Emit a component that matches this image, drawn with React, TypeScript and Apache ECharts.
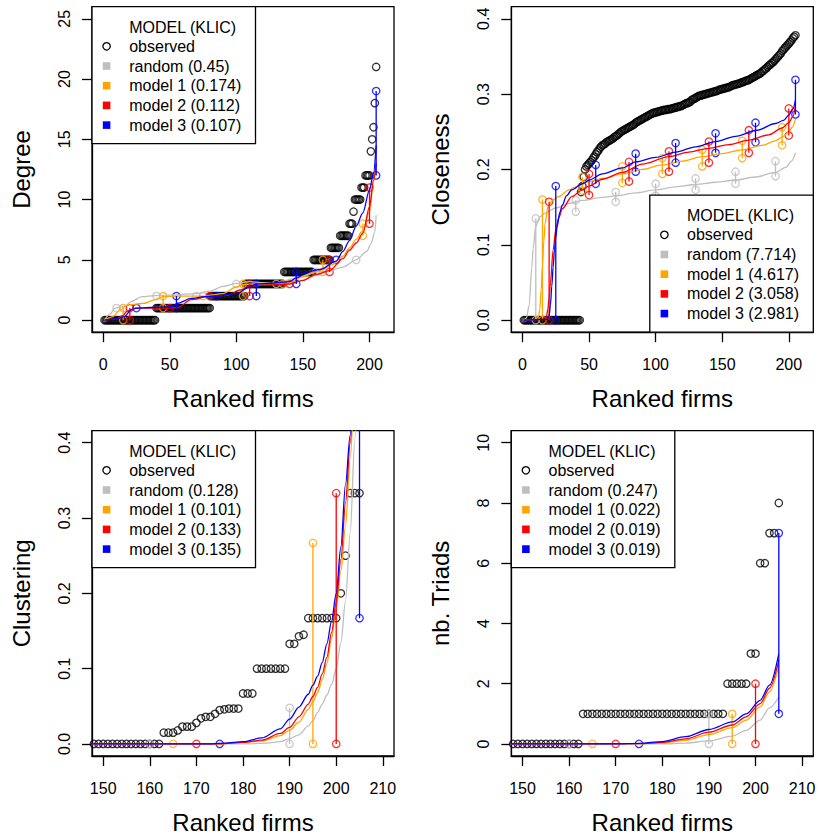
import React, { useEffect, useRef } from "react";
import * as echarts from "echarts";

type Pt = [number, number];
type Seg = [number, number, number]; // firm rank, low, high

// ---------------- tick labels ----------------
const fullRankTicks = [0, 50, 100, 150, 200];
const tailRankTicks = [150, 160, 170, 180, 190, 200, 210];
const degreeTicks = [0, 5, 10, 15, 20, 25];
const closenessTicks = [0, 0.1, 0.2, 0.3, 0.4];
const clusteringTicks = [0, 0.1, 0.2, 0.3, 0.4];
const triadTicks = [0, 2, 4, 6, 8, 10];

// ---------------- legend labels ----------------
const legendTitle = "MODEL (KLIC)";
const modelNames = ["random", "model 1", "model 2", "model 3"];
const degreeKlic = ["0.45", "0.174", "0.112", "0.107"];
const closenessKlic = ["7.714", "4.617", "3.058", "2.981"];
const clusteringKlic = ["0.128", "0.101", "0.133", "0.135"];
const triadKlic = ["0.247", "0.022", "0.019", "0.019"];

// ---------------- observed values (ranked firms 1..205) ----------------
const degreeObsLevels = [0, 1, 2, 3, 4, 5, 6, 7, 8, 9, 10, 11, 12, 14, 15, 16, 18, 21];
const degreeObsCounts = [39, 41, 26, 29, 22, 13, 7, 7, 3, 1, 5, 3, 4, 1, 1, 1, 1, 1];

const closenessObsZeroCount = 43;
const closenessObsTail = [
  0.17, 0.178, 0.19, 0.2, 0.204, 0.206, 0.208,
  0.21, 0.212, 0.215, 0.217, 0.22, 0.223, 0.225, 0.228, 0.23, 0.232,
  0.233, 0.234, 0.236, 0.237, 0.238, 0.239, 0.24, 0.241, 0.243, 0.244,
  0.245, 0.247, 0.248, 0.25, 0.251, 0.252, 0.253, 0.254, 0.255, 0.256,
  0.257, 0.258, 0.259, 0.26, 0.262, 0.263, 0.264, 0.265, 0.266, 0.267,
  0.268, 0.269, 0.27, 0.271, 0.272, 0.273, 0.274, 0.275, 0.275, 0.276,
  0.276, 0.277, 0.277, 0.278, 0.278, 0.279, 0.279, 0.279, 0.28, 0.28,
  0.28, 0.281, 0.281, 0.282, 0.282, 0.283, 0.283, 0.284, 0.284, 0.285,
  0.286, 0.287, 0.288, 0.288, 0.289, 0.29, 0.292, 0.293, 0.294, 0.295,
  0.296, 0.297, 0.298, 0.298, 0.299, 0.299, 0.3, 0.3, 0.301, 0.301,
  0.302, 0.302, 0.303, 0.303, 0.304, 0.304, 0.305, 0.306, 0.306, 0.307,
  0.307, 0.308, 0.308, 0.309, 0.309, 0.31, 0.311, 0.312, 0.312, 0.313,
  0.313, 0.314, 0.314, 0.315, 0.316, 0.316, 0.317, 0.318, 0.318, 0.319,
  0.32, 0.321, 0.322, 0.323, 0.324, 0.325, 0.326, 0.327, 0.328, 0.33,
  0.331, 0.333, 0.334, 0.336, 0.338, 0.339, 0.341, 0.342, 0.344, 0.346,
  0.348, 0.35, 0.352, 0.354, 0.357, 0.359, 0.361, 0.363, 0.365, 0.367,
  0.369, 0.371, 0.374, 0.376, 0.378,
];

const clusteringObsZeroCount = 162;
const clusteringObsTail = [
  0.015, 0.015, 0.015, 0.018, 0.023, 0.023, 0.023, 0.028, 0.034, 0.036,
  0.036, 0.04, 0.045, 0.046, 0.047, 0.047, 0.047, 0.067, 0.067, 0.067,
  0.1, 0.1, 0.1, 0.1, 0.1, 0.1, 0.1, 0.133, 0.133, 0.143,
  0.145, 0.167, 0.167, 0.167, 0.167, 0.167, 0.167, 0.167, 0.2, 0.25,
  0.333, 0.333, 0.333,
];

const triadObsLevels = [0, 1, 2, 3, 6, 7, 8];
const triadObsCounts = [162, 31, 5, 2, 2, 2, 1];

// ---------------- model curves ----------------
const degreeRandomCurve: Pt[] = [[1, 0], [5, 0.5], [9, 1.0], [16, 1.13], [21, 1.54], [29, 1.95], [39, 2.04], [55, 2.1], [70, 2.2], [80, 2.4], [90, 2.8], [100, 3.05], [110, 3.2], [120, 3.1], [130, 3.05], [145, 3.5], [160, 4.0], [170, 4.1], [180, 4.4], [190, 5.0], [198, 5.7], [201, 6.3], [204, 7.3], [205, 8.7]];
const degreeModel1Curve: Pt[] = [[1, 0], [7.5, 0.3], [12.6, 0.85], [18.8, 1.27], [31, 1.4], [39, 1.7], [45, 1.95], [55, 2.0], [75, 2.0], [90, 2.2], [100, 2.75], [105, 2.95], [112, 3.0], [130, 3.0], [140, 3.1], [150, 3.6], [160, 4.0], [165, 4.2], [172, 4.6], [180, 5.3], [185, 6.0], [190, 6.7], [195, 7.4], [200, 9.0], [203, 11.5], [205, 13]];
const degreeModel2Curve: Pt[] = [[1, 0], [10, 0.1], [15, 0.4], [18, 0.75], [24, 1.0], [40, 1.0], [56, 1.04], [66, 1.7], [79, 1.97], [93, 2.05], [103, 2.5], [110, 2.8], [120, 2.9], [140, 3.0], [150, 3.3], [160, 3.8], [170, 4.1], [180, 5.1], [185, 5.8], [190, 6.4], [195, 7.2], [200, 9.4], [203, 11.6], [205, 13]];
const degreeModel3Curve: Pt[] = [[1, 0], [10, 0.1], [16, 0.3], [21, 0.85], [25, 1.0], [35, 1.05], [51, 1.1], [56, 1.4], [66, 1.8], [76, 1.95], [85, 2.0], [100, 2.2], [110, 2.75], [115, 3.0], [126, 3.05], [140, 3.2], [145, 3.5], [153, 4.0], [163, 4.2], [175, 4.9], [180, 5.7], [185, 6.6], [190, 7.8], [195, 8.9], [200, 10.8], [203, 12.2], [205, 14.5]];

const closenessRandomCurve: Pt[] = [[1, 0], [3, 0.003], [5, 0.02], [7, 0.07], [8, 0.095], [10, 0.125], [13, 0.137], [17, 0.142], [25, 0.149], [35, 0.155], [45, 0.159], [60, 0.163], [70, 0.165], [85, 0.169], [100, 0.173], [115, 0.177], [130, 0.18], [145, 0.183], [160, 0.186], [175, 0.19], [190, 0.196], [198, 0.203], [202, 0.211], [205, 0.222]];
const closenessModel1Curve: Pt[] = [[1, 0], [10, 0.001], [12, 0.005], [13, 0.014], [14, 0.04], [15, 0.071], [16, 0.105], [17, 0.128], [19, 0.15], [22, 0.158], [27, 0.164], [35, 0.173], [40, 0.177], [50, 0.184], [60, 0.188], [75, 0.194], [90, 0.2], [105, 0.206], [120, 0.211], [135, 0.217], [150, 0.221], [165, 0.226], [180, 0.232], [190, 0.238], [196, 0.244], [200, 0.25], [203, 0.257], [205, 0.267]];
const closenessModel2Curve: Pt[] = [[1, 0], [15, 0.001], [18, 0.005], [19, 0.014], [20, 0.03], [21, 0.05], [23, 0.093], [25, 0.12], [27, 0.135], [30, 0.148], [37, 0.164], [45, 0.173], [50, 0.178], [60, 0.187], [75, 0.196], [90, 0.207], [110, 0.217], [125, 0.223], [140, 0.228], [155, 0.233], [170, 0.239], [185, 0.246], [195, 0.255], [200, 0.262], [203, 0.27], [205, 0.285]];
const closenessModel3Curve: Pt[] = [[1, 0], [18, 0.001], [20, 0.006], [21, 0.02], [22, 0.045], [23, 0.07], [24, 0.093], [25, 0.11], [26, 0.124], [28, 0.143], [30, 0.153], [33, 0.165], [37, 0.173], [45, 0.181], [50, 0.186], [60, 0.194], [75, 0.202], [85, 0.21], [100, 0.216], [115, 0.223], [130, 0.23], [145, 0.237], [160, 0.244], [176, 0.252], [190, 0.261], [196, 0.265], [200, 0.272], [203, 0.28], [205, 0.292]];

const clusteringRandomCurve: Pt[] = [[140, 0], [180, 0.0], [185, 0.001], [188, 0.003], [190, 0.007], [192, 0.012], [194, 0.024], [195, 0.031], [196, 0.042], [197, 0.053], [198, 0.065], [199, 0.079], [200, 0.1], [201, 0.135], [202, 0.19], [203, 0.28], [204, 0.405], [205, 0.55]];
const clusteringModel1Curve: Pt[] = [[140, 0], [175, 0.0], [180, 0.002], [184, 0.004], [188, 0.011], [190, 0.018], [192, 0.029], [194, 0.046], [195, 0.056], [196, 0.068], [197, 0.085], [198, 0.107], [199, 0.14], [200, 0.18], [201, 0.23], [202, 0.29], [203, 0.38], [204, 0.48], [205, 0.58]];
const clusteringModel2Curve: Pt[] = [[140, 0], [175, 0.0], [180, 0.002], [184, 0.005], [188, 0.014], [190, 0.022], [192, 0.036], [194, 0.053], [195, 0.063], [196, 0.075], [197, 0.093], [198, 0.115], [199, 0.148], [200, 0.188], [201, 0.245], [202, 0.32], [203, 0.4], [204, 0.49], [205, 0.58]];
const clusteringModel3Curve: Pt[] = [[140, 0], [172, 0.0], [176, 0.001], [180, 0.003], [184, 0.008], [188, 0.02], [190, 0.033], [192, 0.049], [194, 0.066], [195, 0.078], [196, 0.09], [197, 0.108], [198, 0.133], [199, 0.163], [200, 0.2], [201, 0.262], [202, 0.345], [203, 0.41], [204, 0.5], [205, 0.6]];

const triadRandomCurve: Pt[] = [[140, 0], [180, 0.0], [185, 0.03], [190, 0.1], [195, 0.26], [198, 0.45], [201, 0.79], [203, 1.2], [205, 1.56]];
const triadModel1Curve: Pt[] = [[140, 0], [175, 0.01], [180, 0.03], [185, 0.12], [190, 0.31], [195, 0.54], [198, 0.79], [201, 1.23], [203, 1.73], [205, 2.61]];
const triadModel2Curve: Pt[] = [[140, 0], [175, 0.01], [180, 0.05], [185, 0.17], [190, 0.39], [195, 0.63], [198, 0.9], [201, 1.34], [203, 1.85], [205, 2.78]];
const triadModel3Curve: Pt[] = [[140, 0], [170, 0.0], [175, 0.02], [180, 0.08], [185, 0.24], [190, 0.48], [195, 0.73], [198, 1.0], [201, 1.45], [203, 1.95], [205, 3.0]];

// ---------------- simulated ranges (rank, low, high) ----------------
const degreeRandomSegs: Seg[] = [[10, 1, 1], [40, 2, 2], [70, 2, 2], [100, 3, 3], [130, 3, 3], [160, 4, 4], [190, 5, 5]];
const degreeModel1Segs: Seg[] = [[15, 0, 1], [45, 1, 2], [75, 2, 2], [105, 2, 3], [135, 3, 3], [165, 4, 5], [195, 7, 8]];
const degreeModel2Segs: Seg[] = [[20, 0, 1], [50, 1, 1], [80, 2, 2], [110, 2, 3], [140, 3, 3], [170, 4, 5], [200, 8, 11]];
const degreeModel3Segs: Seg[] = [[25, 1, 1], [55, 1, 2], [85, 2, 2], [115, 2, 3], [145, 3, 4], [175, 5, 5], [205, 12, 19]];

const closenessRandomSegs: Seg[] = [[10, 0, 0.135], [40, 0.144, 0.159], [70, 0.157, 0.17], [100, 0.165, 0.181], [130, 0.173, 0.188], [160, 0.181, 0.197], [190, 0.191, 0.211]];
const closenessModel1Segs: Seg[] = [[15, 0, 0.16], [45, 0.172, 0.19], [75, 0.182, 0.204], [105, 0.194, 0.215], [135, 0.204, 0.226], [165, 0.215, 0.238], [195, 0.232, 0.256]];
const closenessModel2Segs: Seg[] = [[20, 0, 0.157], [50, 0.166, 0.194], [80, 0.184, 0.21], [110, 0.197, 0.224], [140, 0.209, 0.237], [170, 0.222, 0.252], [200, 0.245, 0.281]];
const closenessModel3Segs: Seg[] = [[25, 0, 0.178], [55, 0.181, 0.206], [85, 0.197, 0.221], [115, 0.209, 0.235], [145, 0.222, 0.248], [175, 0.236, 0.262], [205, 0.273, 0.319]];

const clusteringRandomSegs: Seg[] = [[160, 0, 0], [190, 0, 0.048]];
const clusteringModel1Segs: Seg[] = [[165, 0, 0], [195, 0, 0.267]];
const clusteringModel2Segs: Seg[] = [[170, 0, 0], [200, 0, 0.333]];
const clusteringModel3Segs: Seg[] = [[175, 0, 0], [205, 0.167, 0.5]];

const triadRandomSegs: Seg[] = [[160, 0, 0], [190, 0, 1]];
const triadModel1Segs: Seg[] = [[165, 0, 0], [195, 0, 1]];
const triadModel2Segs: Seg[] = [[170, 0, 0], [200, 0, 2]];
const triadModel3Segs: Seg[] = [[175, 0, 0], [205, 1, 7]];

// ---------------- styling ----------------
const FONT = '"Liberation Sans", Arial, Helvetica, sans-serif';
const MODEL_COLORS = ["#BEBEBE", "#FFA500", "#FF0000", "#0000FF"];
const LW = 1.3;
const SYM = 7.4;

function expandRuns(levels: number[], counts: number[]): Pt[] {
  const out: Pt[] = [];
  let rank = 1;
  levels.forEach((v, k) => {
    for (let c = 0; c < counts[k]; c++) out.push([rank++, v]);
  });
  return out;
}
function zerosThenTail(zeroCount: number, tail: number[]): Pt[] {
  const out: Pt[] = [];
  for (let i = 0; i < zeroCount; i++) out.push([i + 1, 0]);
  tail.forEach((v, i) => out.push([zeroCount + i + 1, v]));
  return out;
}

interface Panel {
  left: number; top: number; width: number; height: number;
  xlim: [number, number]; ylim: [number, number];
  xTicks: number[]; yTicks: number[]; yDec: number; yName: string;
  observed: Pt[]; curves: Pt[][]; segs: Seg[][]; klic: string[];
  legendCorner: "tl" | "br";
}

const panels: Panel[] = [
  {
    left: 92, top: 6.7, width: 302, height: 325.5, xlim: [0, 210], ylim: [0, 25],
    xTicks: fullRankTicks, yTicks: degreeTicks, yDec: 0, yName: "Degree",
    observed: expandRuns(degreeObsLevels, degreeObsCounts),
    curves: [degreeRandomCurve, degreeModel1Curve, degreeModel2Curve, degreeModel3Curve],
    segs: [degreeRandomSegs, degreeModel1Segs, degreeModel2Segs, degreeModel3Segs],
    klic: degreeKlic, legendCorner: "tl",
  },
  {
    left: 511.3, top: 6.7, width: 302, height: 325.5, xlim: [0, 210], ylim: [0, 0.4],
    xTicks: fullRankTicks, yTicks: closenessTicks, yDec: 1, yName: "Closeness",
    observed: zerosThenTail(closenessObsZeroCount, closenessObsTail),
    curves: [closenessRandomCurve, closenessModel1Curve, closenessModel2Curve, closenessModel3Curve],
    segs: [closenessRandomSegs, closenessModel1Segs, closenessModel2Segs, closenessModel3Segs],
    klic: closenessKlic, legendCorner: "br",
  },
  {
    left: 92, top: 430.7, width: 302, height: 325.3, xlim: [150, 210], ylim: [0, 0.4],
    xTicks: tailRankTicks, yTicks: clusteringTicks, yDec: 1, yName: "Clustering",
    observed: zerosThenTail(clusteringObsZeroCount, clusteringObsTail),
    curves: [clusteringRandomCurve, clusteringModel1Curve, clusteringModel2Curve, clusteringModel3Curve],
    segs: [clusteringRandomSegs, clusteringModel1Segs, clusteringModel2Segs, clusteringModel3Segs],
    klic: clusteringKlic, legendCorner: "tl",
  },
  {
    left: 511.3, top: 430.7, width: 302, height: 325.3, xlim: [150, 210], ylim: [0, 10],
    xTicks: tailRankTicks, yTicks: triadTicks, yDec: 0, yName: "nb. Triads",
    observed: expandRuns(triadObsLevels, triadObsCounts),
    curves: [triadRandomCurve, triadModel1Curve, triadModel2Curve, triadModel3Curve],
    segs: [triadRandomSegs, triadModel1Segs, triadModel2Segs, triadModel3Segs],
    klic: triadKlic, legendCorner: "tl",
  },
];

function ext(lim: [number, number]): [number, number] {
  const d = (lim[1] - lim[0]) * 0.04;
  return [lim[0] - d, lim[1] + d];
}

function buildOption(): any {
  const grid: any[] = [];
  const xAxis: any[] = [];
  const yAxis: any[] = [];
  const series: any[] = [];
  const graphic: any[] = [];
  const textBase = { color: "#000", fontFamily: FONT };

  panels.forEach((p, g) => {
    grid.push({
      left: p.left, top: p.top, width: p.width, height: p.height,
      show: true, borderColor: "#000", borderWidth: LW, backgroundColor: "transparent",
    });
    const [x0, x1] = ext(p.xlim);
    const [y0, y1] = ext(p.ylim);
    xAxis.push({
      gridIndex: g, type: "value", min: x0, max: x1,
      axisLine: { show: true, onZero: false, lineStyle: { color: "#000", width: LW } },
      axisTick: { show: true, inside: false, length: 10, customValues: p.xTicks, lineStyle: { color: "#000", width: LW } },
      axisLabel: { show: true, customValues: p.xTicks, margin: 24, fontSize: 16, ...textBase, formatter: (v: number) => String(Math.round(v)) },
      splitLine: { show: false },
      name: "Ranked firms", nameLocation: "middle", nameGap: 54,
      nameTextStyle: { fontSize: 24, ...textBase },
    });
    yAxis.push({
      gridIndex: g, type: "value", min: y0, max: y1,
      axisLine: { show: true, onZero: false, lineStyle: { color: "#000", width: LW } },
      axisTick: { show: true, inside: false, length: 10, customValues: p.yTicks, lineStyle: { color: "#000", width: LW } },
      axisLabel: { show: true, customValues: p.yTicks, margin: 20, rotate: 90, fontSize: 16, ...textBase, formatter: (v: number) => v.toFixed(p.yDec) },
      splitLine: { show: false },
      name: p.yName, nameLocation: "middle", nameGap: 59,
      nameTextStyle: { fontSize: 24, ...textBase },
    });

    series.push({
      type: "scatter", xAxisIndex: g, yAxisIndex: g, data: p.observed,
      symbol: "circle", symbolSize: SYM, silent: true,
      itemStyle: { color: "rgba(0,0,0,0)", borderColor: "#000", borderWidth: LW },
    });

    p.curves.forEach((curve, m) => {
      const col = MODEL_COLORS[m];
      series.push({
        type: "line", xAxisIndex: g, yAxisIndex: g, data: curve, showSymbol: false,
        smooth: 0.3, smoothMonotone: "x", clip: true, silent: true,
        lineStyle: { color: col, width: LW },
      });
      const segLine: any[] = [];
      const segPts: Pt[] = [];
      p.segs[m].forEach(([x, lo, hi]) => {
        segLine.push([x, lo], [x, hi], [x, "-"]);
        segPts.push([x, lo]);
        if (hi !== lo) segPts.push([x, hi]);
      });
      series.push({
        type: "line", xAxisIndex: g, yAxisIndex: g, data: segLine, showSymbol: false,
        connectNulls: false, clip: true, silent: true,
        lineStyle: { color: col, width: LW },
      });
      series.push({
        type: "scatter", xAxisIndex: g, yAxisIndex: g, data: segPts,
        symbol: "circle", symbolSize: SYM, silent: true,
        itemStyle: { color: "rgba(0,0,0,0)", borderColor: col, borderWidth: LW },
      });
    });

    // legend box
    const LWID = 163.5, LHGT = 137;
    const lx = p.legendCorner === "tl" ? p.left : p.left + p.width - LWID;
    const ly = p.legendCorner === "tl" ? p.top : p.top + p.height - LHGT;
    const symX = 14.6, txtX = 37.2, titleY = 20.6, row0 = 39.6, rowH = 19.7;
    const txt = (t: string, y: number) => ({
      type: "text", x: txtX, y, z: 101,
      style: { text: t, fontSize: 16, fontFamily: FONT, fill: "#000", align: "left", verticalAlign: "middle", textAlign: "left", textVerticalAlign: "middle" },
    });
    const children: any[] = [
      { type: "rect", z: 100, shape: { x: 0, y: 0, width: LWID, height: LHGT }, style: { fill: "#fff", stroke: "#000", lineWidth: LW } },
      txt(legendTitle, titleY),
      { type: "circle", z: 101, shape: { cx: symX, cy: row0, r: 3.7 }, style: { fill: "none", stroke: "#000", lineWidth: LW } },
      txt("observed", row0),
    ];
    modelNames.forEach((nm, m) => {
      const y = row0 + rowH * (m + 1);
      children.push({ type: "rect", z: 101, shape: { x: symX - 3.8, y: y - 3.8, width: 7.6, height: 7.6 }, style: { fill: MODEL_COLORS[m] } });
      children.push(txt(`${nm} (${p.klic[m]})`, y));
    });
    graphic.push({ type: "group", x: lx, y: ly, z: 100, children });
  });

  return {
    animation: false,
    backgroundColor: "#fff",
    textStyle: { fontFamily: FONT },
    grid, xAxis, yAxis, series, graphic,
  };
}

export default function App() {
  const ref = useRef<HTMLDivElement>(null);
  useEffect(() => {
    document.body.style.margin = "0";
    const chart = echarts.init(ref.current!, null, { renderer: "svg" });
    chart.setOption(buildOption());
    return () => chart.dispose();
  }, []);
  return (
    <div
      ref={ref}
      style={{ position: "absolute", left: 0, top: 0, width: 819, height: 838, background: "#fff" }}
    />
  );
}
